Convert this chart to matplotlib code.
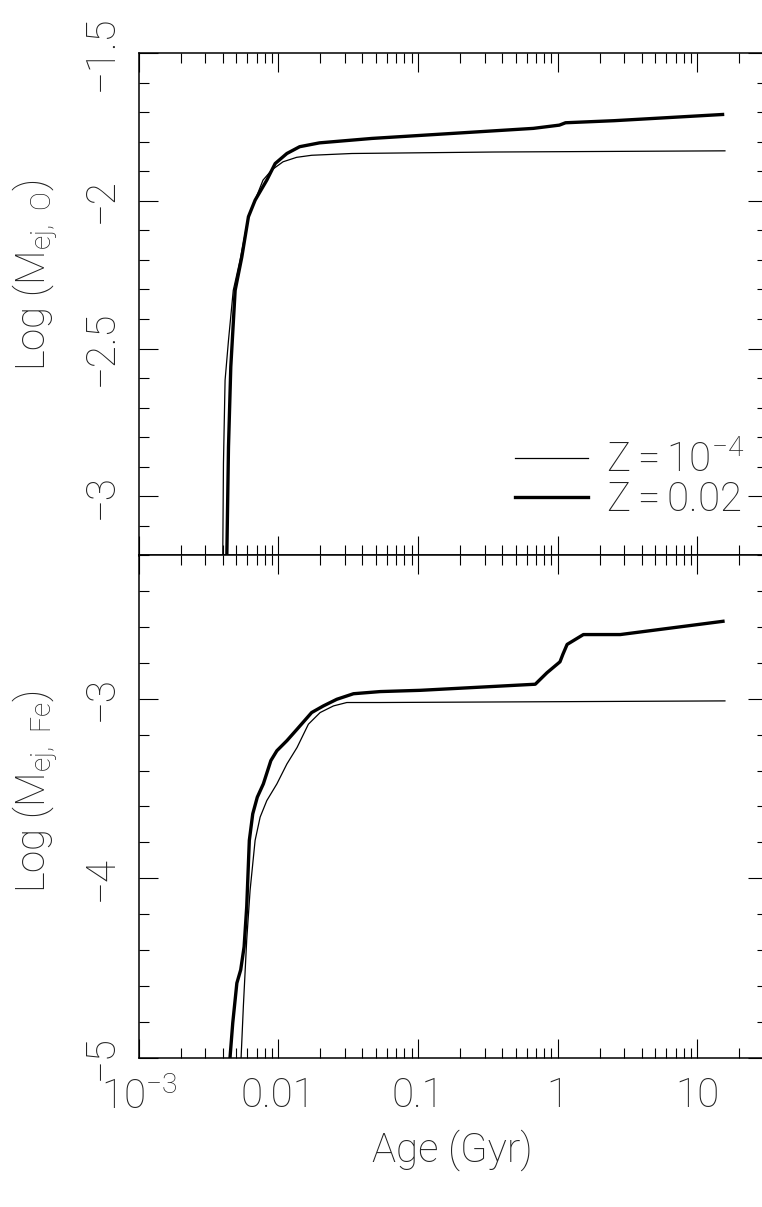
import matplotlib
matplotlib.use('Agg')
import matplotlib.pyplot as plt
from matplotlib.ticker import MultipleLocator, LogLocator, NullFormatter

plt.rcParams['font.family'] = ['Roboto', 'DejaVu Sans']
plt.rcParams['font.weight'] = 'light'
plt.rcParams['mathtext.fontset'] = 'custom'
plt.rcParams['mathtext.rm'] = 'Roboto:light'
plt.rcParams['mathtext.it'] = 'Roboto:light'
plt.rcParams['mathtext.sf'] = 'Roboto:light'
plt.rcParams['text.color'] = '#222222'

# ejected oxygen mass vs age (Gyr)
age_o_lowz = [0.00398, 0.00404, 0.00415, 0.00439, 0.00475, 0.00531, 0.00610,
              0.00776, 0.0090, 0.0108, 0.0135, 0.0173, 0.0336, 0.345, 15.8]
logm_o_lowz = [-3.30, -2.889, -2.607, -2.472, -2.303, -2.201, -2.054,
               -1.930, -1.895, -1.868, -1.853, -1.846, -1.840, -1.835, -1.831]
age_o_sol = [0.00424, 0.00439, 0.00456, 0.00490, 0.00547, 0.00610, 0.00681,
             0.00826, 0.00948, 0.0115, 0.0142, 0.0197, 0.0468, 0.177, 0.670,
             1.03, 1.14, 2.54, 15.2]
logm_o_sol = [-3.30, -2.833, -2.562, -2.303, -2.190, -2.054, -1.998,
              -1.930, -1.874, -1.840, -1.817, -1.804, -1.789, -1.772, -1.755,
              -1.744, -1.736, -1.729, -1.708]

# ejected iron mass vs age (Gyr)
age_fe_lowz = [0.00537, 0.00541, 0.00561, 0.00593, 0.00627, 0.00681, 0.00740,
               0.00826, 0.00975, 0.0115, 0.0136, 0.0164, 0.0199, 0.0248,
               0.0309, 0.0536, 15.8]
logm_fe_lowz = [-5.05, -4.993, -4.715, -4.344, -4.067, -3.789, -3.659,
                -3.567, -3.474, -3.363, -3.271, -3.141, -3.076, -3.039,
                -3.020, -3.020, -3.011]
age_fe_sol = [0.00447, 0.00451, 0.00471, 0.00504, 0.00537, 0.00568, 0.00593,
              0.00619, 0.00655, 0.00706, 0.00780, 0.00883, 0.00975, 0.0115,
              0.0136, 0.0173, 0.0210, 0.0262, 0.0345, 0.0536, 0.104, 0.692,
              0.839, 1.04, 1.09, 1.17, 1.53, 2.81, 15.3]
logm_fe_sol = [-5.05, -4.993, -4.807, -4.585, -4.511, -4.382, -4.159,
               -3.789, -3.641, -3.548, -3.474, -3.344, -3.289, -3.233,
               -3.169, -3.076, -3.039, -3.002, -2.971, -2.959, -2.952, -2.918,
               -2.854, -2.793, -2.752, -2.696, -2.641, -2.641, -2.567]

xticks = [1e-3, 1e-2, 0.1, 1, 10]
xticklabels = [r'$10^{-3}$', '0.01', '0.1', '1', '10']

TXT = 29
W, H = 762, 1207

fig = plt.figure(figsize=(W / 100, H / 100), dpi=100)
left = 138.8 / W
width = (767 - 138.8) / W
ax1 = fig.add_axes([left, 1 - 555.5 / H, width, 502.5 / H])
ax2 = fig.add_axes([left, 1 - 1057.5 / H, width, 502.0 / H], sharex=ax1)

ax1.plot(age_o_lowz, logm_o_lowz, color='black', lw=0.9, label=r'Z$=$10$^{-4}$')
ax1.plot(age_o_sol, logm_o_sol, color='black', lw=2.4, label=r'Z$=$0.02')
ax2.plot(age_fe_lowz, logm_fe_lowz, color='black', lw=0.9)
ax2.plot(age_fe_sol, logm_fe_sol, color='black', lw=2.4)

ax1.set_xscale('log')
ax1.set_xlim(1e-3, 10 ** 1.5)
ax1.set_ylim(-3.2, -1.5)
ax2.set_ylim(-5, -2.2)

ax1.yaxis.set_major_locator(MultipleLocator(0.5))
ax1.yaxis.set_minor_locator(MultipleLocator(0.1))
ax2.yaxis.set_major_locator(MultipleLocator(1))
ax2.yaxis.set_minor_locator(MultipleLocator(0.2))
ax1.set_yticks([-3, -2.5, -2, -1.5], ['\u22123', '\u22122.5', '\u22122', '\u22121.5'])
ax2.set_yticks([-5, -4, -3], ['\u22125', '\u22124', '\u22123'])

ax2.set_xticks(xticks, xticklabels)
ax2.xaxis.set_minor_locator(LogLocator(base=10, subs=range(2, 10), numticks=20))
ax2.xaxis.set_minor_formatter(NullFormatter())

for ax in (ax1, ax2):
    for s in ax.spines.values():
        s.set_linewidth(1.1)
    ax.tick_params(which='both', direction='in', top=True, right=True,
                   width=0.8, colors='black', labelcolor='#222222')
    ax.tick_params(which='major', length=13.7)
    ax.tick_params(which='minor', length=7.2)
    ax.tick_params(axis='y', labelsize=TXT, pad=13, labelrotation=90)
    for lab in ax.get_yticklabels():
        lab.set_verticalalignment('center')
ax1.tick_params(axis='x', labelbottom=False)
ax2.tick_params(axis='x', labelsize=TXT, pad=14)

fig.text(36 / W, 1 - 275 / H, r'Log (M$_{\rm ej,\ O}$)', rotation=90,
         ha='center', va='center', fontsize=TXT)
fig.text(36 / W, 1 - 792 / H, r'Log (M$_{\rm ej,\ Fe}$)', rotation=90,
         ha='center', va='center', fontsize=TXT)
fig.text(452 / W, 1 - 1150 / H, 'Age (Gyr)', ha='center', va='center',
         fontsize=TXT)

ax1.legend(loc='upper left', bbox_to_anchor=(0.599, 0.229), frameon=False,
           fontsize=TXT, handlelength=1.8, handletextpad=0.45,
           borderpad=0, borderaxespad=0, labelspacing=0.0)

fig.savefig('out.png', dpi=100)
